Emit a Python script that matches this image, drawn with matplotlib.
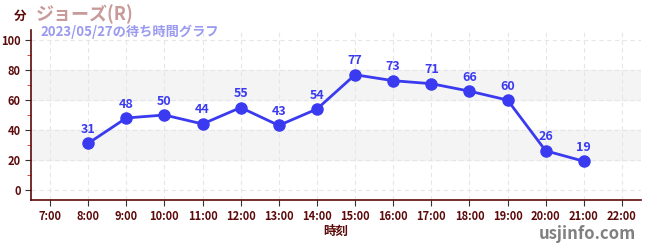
"""
Wait-time chart for one attraction.
"""

import matplotlib
matplotlib.use('Agg')
import matplotlib.pyplot as plt
from matplotlib.ticker import MultipleLocator

plt.rcParams['font.family'] = ['Noto Sans CJK JP', 'DejaVu Sans']

hours = [8, 9, 10, 11, 12, 13, 14, 15, 16, 17, 18, 19, 20, 21]
waits = [31, 48, 50, 44, 55, 43, 54, 77, 73, 71, 66, 60, 26, 19]
tick_hours = list(range(7, 23))
tick_labels = [f'{h}:00' for h in tick_hours]

axis_color = '#5c0a0a'
line_color = '#3a3af0'

fig = plt.figure(figsize=(6.5, 2.5), dpi=100)
ax = fig.add_axes([31/650, 50/250, 610/650, 170/250])

# Shaded bands and grid
for lo, hi in [(20, 40), (60, 80)]:
    ax.axhspan(lo, hi, color='#f4f4f4', zorder=0)
ax.grid(True, color='#e6e6e6', linestyle=(0, (4, 3)), linewidth=0.8, zorder=0)

ax.plot(hours, waits, color=line_color, linewidth=2.0, marker='o', markersize=8, zorder=3)
for h, w in zip(hours, waits):
    ax.text(h, w + 5, str(w), color=line_color, fontsize=9, fontweight='bold',
            ha='center', va='bottom', zorder=4)

ax.set_xlim(6.5, 22.5)
ax.set_ylim(-7, 107)
ax.set_xticks(tick_hours)
ax.set_xticklabels(tick_labels)
ax.set_yticks(range(0, 101, 20))
ax.yaxis.set_minor_locator(MultipleLocator(10))

for side in ['top', 'right']:
    ax.spines[side].set_visible(False)
for side in ['left', 'bottom']:
    ax.spines[side].set_color(axis_color)
    ax.spines[side].set_linewidth(1.2)

ax.tick_params(axis='both', colors='#333333', labelcolor=axis_color, labelsize=8, length=4)
ax.tick_params(axis='y', which='minor', colors='#dd2222', length=3)
for lbl in ax.get_xticklabels() + ax.get_yticklabels():
    lbl.set_fontweight('bold')

ax.set_xlabel('時刻', color=axis_color, fontsize=9, fontweight='bold', labelpad=1)

# Titles
fig.text(14/650, 1 - 16/250, '分', color=axis_color, fontsize=9, fontweight='bold', va='center')
fig.text(36/650, 1 - 14/250, 'ジョーズ(R)', color='#c89a9a', fontsize=13, fontweight='bold', va='center')
fig.text(40/650, 1 - 32/250, '2023/05/27の待ち時間グラフ', color='#9a9af0', fontsize=9.5,
         fontweight='bold', va='center')
fig.text(636/650, 1 - 234/250, 'usjinfo.com', color='#808080', fontsize=12, fontweight='bold',
         ha='right', va='center')

plt.savefig('out.png')
